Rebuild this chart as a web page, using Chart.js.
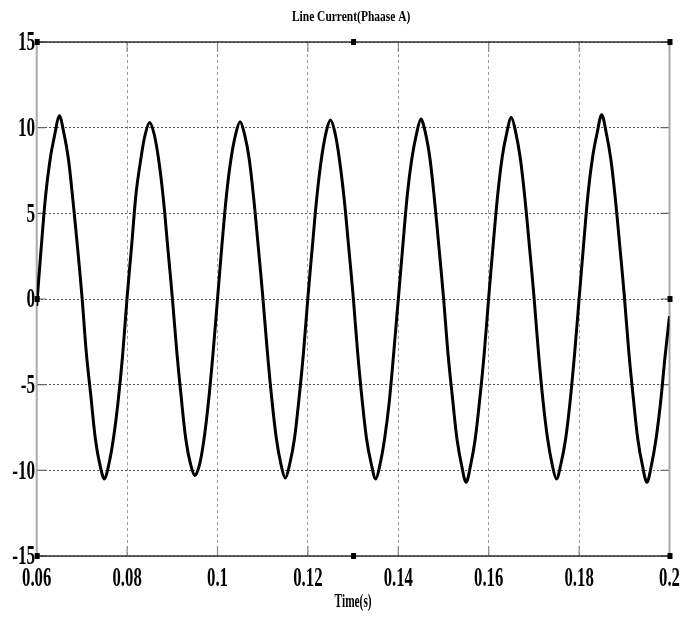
<!DOCTYPE html>
<html lang="en">
<head>
<meta charset="UTF-8">
<title>Line Current(Phaase A)</title>
<script src="https://cdn.jsdelivr.net/npm/chart.js"></script>
<style>
    body { margin: 0; background: #fff; }
    canvas { display: block; }
</style>
</head>
<body>
<canvas id="chart" width="696" height="617"></canvas>
<script>
    const chartTitle = 'Line Current(Phaase A)';
    const xTitle = 'Time(s)';

    // sample times (s), one row per 20 ms cycle
    const timeS = [
        0.060, 0.061, 0.062, 0.063, 0.064, 0.065, 0.066, 0.067, 0.068, 0.069, 0.070, 0.071, 0.072, 0.073, 0.074, 0.075, 0.076, 0.077, 0.078, 0.079,
        0.080, 0.081, 0.082, 0.083, 0.084, 0.085, 0.086, 0.087, 0.088, 0.089, 0.090, 0.091, 0.092, 0.093, 0.094, 0.095, 0.096, 0.097, 0.098, 0.099,
        0.100, 0.101, 0.102, 0.103, 0.104, 0.105, 0.106, 0.107, 0.108, 0.109, 0.110, 0.111, 0.112, 0.113, 0.114, 0.115, 0.116, 0.117, 0.118, 0.119,
        0.120, 0.121, 0.122, 0.123, 0.124, 0.125, 0.126, 0.127, 0.128, 0.129, 0.130, 0.131, 0.132, 0.133, 0.134, 0.135, 0.136, 0.137, 0.138, 0.139,
        0.140, 0.141, 0.142, 0.143, 0.144, 0.145, 0.146, 0.147, 0.148, 0.149, 0.150, 0.151, 0.152, 0.153, 0.154, 0.155, 0.156, 0.157, 0.158, 0.159,
        0.160, 0.161, 0.162, 0.163, 0.164, 0.165, 0.166, 0.167, 0.168, 0.169, 0.170, 0.171, 0.172, 0.173, 0.174, 0.175, 0.176, 0.177, 0.178, 0.179,
        0.180, 0.181, 0.182, 0.183, 0.184, 0.185, 0.186, 0.187, 0.188, 0.189, 0.190, 0.191, 0.192, 0.193, 0.194, 0.195, 0.196, 0.197, 0.198, 0.199,
        0.200
    ];

    // phase A line current (A)
    const currentA = [
        -0.4, 3.0, 6.1, 8.2, 9.6, 10.7, 9.7, 8.2, 5.8, 3.1, 0.2, -3.2, -5.7, -8.2, -9.7, -10.5, -9.6, -8.1, -6.0, -3.3,
        0.1, 3.1, 6.2, 8.1, 9.6, 10.3, 9.6, 8.1, 5.9, 3.0, 0.1, -3.1, -5.8, -8.2, -9.6, -10.3, -9.7, -8.2, -6.0, -3.2,
        0.0, 3.2, 6.1, 8.2, 9.6, 10.35, 9.6, 8.2, 5.9, 3.1, 0.2, -3.0, -5.8, -8.1, -9.6, -10.45, -9.6, -8.2, -5.9, -3.2,
        0.1, 3.1, 6.0, 8.2, 9.7, 10.45, 9.7, 8.1, 5.9, 3.1, 0.2, -3.1, -5.9, -8.2, -9.6, -10.5, -9.6, -8.1, -6.0, -3.1,
        0.0, 3.1, 6.1, 8.2, 9.6, 10.5, 9.7, 8.2, 5.8, 3.0, 0.1, -3.2, -5.8, -8.2, -9.7, -10.7, -9.7, -8.2, -5.9, -3.2,
        0.1, 3.2, 6.1, 8.3, 9.7, 10.6, 9.7, 8.2, 5.9, 3.1, 0.2, -3.1, -5.9, -8.1, -9.6, -10.5, -9.6, -8.2, -6.0, -3.2,
        0.0, 3.2, 6.2, 8.3, 9.7, 10.75, 9.7, 8.2, 5.9, 3.1, 0.2, -3.1, -5.8, -8.2, -9.7, -10.7, -9.7, -8.2, -6.1, -3.4,
        -1.0
    ];

    const xTicks = [0.06, 0.08, 0.1, 0.12, 0.14, 0.16, 0.18, 0.2];
    const xTickLabels = ['0.06', '0.08', '0.1', '0.12', '0.14', '0.16', '0.18', '0.2'];
    const yTicks = [-15, -10, -5, 0, 5, 10, 15];
    const yTickLabels = ['-15', '-10', '-5', '0', '5', '10', '15'];

    const serif = '"Liberation Serif", "Times New Roman", serif';

    // narrow bold text, like the squeezed matlab export
    function squeezed(ctx, str, x, y, size, sx, align, base) {
        ctx.save();
        ctx.translate(x, y);
        ctx.scale(sx, 1);
        ctx.font = 'bold ' + size + 'px ' + serif;
        ctx.fillStyle = '#000';
        ctx.textAlign = align;
        ctx.textBaseline = base;
        ctx.fillText(str, 0, 0);
        ctx.restore();
    }

    const axesBox = {
        id: 'axesBox',
        beforeDatasetsDraw(chart) {
            const { ctx, chartArea: a, scales: { x, y } } = chart;
            ctx.save();
            ctx.setLineDash([]);
            // inward ticks
            ctx.strokeStyle = '#8a8a8a';
            ctx.lineWidth = 1.2;
            xTicks.forEach(v => {
                const px = x.getPixelForValue(v);
                ctx.beginPath();
                ctx.moveTo(px, a.top); ctx.lineTo(px, a.top + 10);
                ctx.moveTo(px, a.bottom); ctx.lineTo(px, a.bottom - 10);
                ctx.stroke();
            });
            ctx.strokeStyle = '#666';
            yTicks.forEach(v => {
                const py = y.getPixelForValue(v);
                ctx.beginPath();
                ctx.moveTo(a.left, py); ctx.lineTo(a.left + 9, py);
                ctx.moveTo(a.right, py); ctx.lineTo(a.right - 9, py);
                ctx.stroke();
            });
            // frame
            ctx.lineWidth = 2;
            ctx.strokeStyle = '#aaa';
            ctx.beginPath();
            ctx.moveTo(a.left, a.top); ctx.lineTo(a.left, a.bottom);
            ctx.moveTo(a.right, a.top); ctx.lineTo(a.right, a.bottom);
            ctx.stroke();
            ctx.lineWidth = 1.5;
            ctx.strokeStyle = '#333';
            ctx.beginPath();
            ctx.moveTo(a.left, a.top); ctx.lineTo(a.right, a.top);
            ctx.moveTo(a.left, a.bottom); ctx.lineTo(a.right, a.bottom);
            ctx.stroke();
            ctx.restore();
        },
        afterDraw(chart) {
            const { ctx, chartArea: a, scales: { x, y } } = chart;
            ctx.save();
            // little black handles on the box
            ctx.fillStyle = '#000';
            const xMid = (xTicks[0] + xTicks[xTicks.length - 1]) / 2;
            [[xTicks[0], 15], [xMid, 15], [xTicks[7], 15],
             [xTicks[0], -15], [xMid, -15], [xTicks[7], -15],
             [xTicks[0], 0], [xTicks[7], 0]].forEach(([vx, vy]) => {
                ctx.fillRect(x.getPixelForValue(vx) - 2, y.getPixelForValue(vy) - 3, 5, 6);
            });
            xTicks.forEach((v, i) => {
                squeezed(ctx, xTickLabels[i], x.getPixelForValue(v), a.bottom + 30, 27, 0.62, 'center', 'alphabetic');
            });
            yTicks.forEach((v, i) => {
                squeezed(ctx, yTickLabels[i], a.left - 1.5, y.getPixelForValue(v) + 1.5, 27, 0.64, 'right', 'middle');
            });
            squeezed(ctx, xTitle, (a.left + a.right) / 2, 607, 18, 0.63, 'center', 'alphabetic');
            squeezed(ctx, chartTitle, (a.left + a.right) / 2 - 2, 20.5, 14, 0.82, 'center', 'alphabetic');
            ctx.restore();
        }
    };

    new Chart(document.getElementById('chart'), {
        type: 'line',
        data: {
            datasets: [{
                data: timeS.map((t, i) => ({ x: t, y: currentA[i] })),
                borderColor: '#000',
                borderWidth: 3,
                pointRadius: 0,
                tension: 0.35,
                fill: false
            }]
        },
        options: {
            responsive: false,
            animation: false,
            layout: { padding: { left: 36.7, right: 26.5, top: 42, bottom: 61 } },
            plugins: { legend: { display: false }, title: { display: false }, tooltip: { enabled: false } },
            scales: {
                x: {
                    type: 'linear',
                    min: 0.06,
                    max: 0.2,
                    afterBuildTicks: s => { s.ticks = xTicks.map(v => ({ value: v })); },
                    afterFit: s => { s.height = 0; },
                    ticks: { display: false },
                    grid: { color: '#9a9a9a', lineWidth: 1, drawTicks: false },
                    border: { display: false, dash: [3, 3] }
                },
                y: {
                    min: -15,
                    max: 15,
                    afterBuildTicks: s => { s.ticks = yTicks.map(v => ({ value: v })); },
                    afterFit: s => { s.width = 0; },
                    ticks: { display: false },
                    grid: { color: '#555', lineWidth: 1, drawTicks: false },
                    border: { display: false, dash: [2, 2] }
                }
            }
        },
        plugins: [axesBox]
    });
</script>
</body>
</html>
